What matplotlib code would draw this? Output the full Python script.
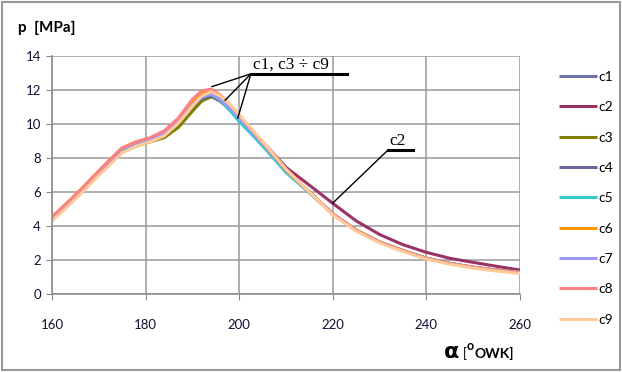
import matplotlib
matplotlib.use("Agg")
import matplotlib.pyplot as plt
from matplotlib.patches import Rectangle

# crank angle [deg]
alpha = [160, 163, 166, 169, 172, 175, 178, 181, 184, 187, 190, 192, 194,
         196, 198, 200, 203, 206, 210, 215, 220, 225, 230, 235, 240, 245,
         250, 255, 260]

# cylinder pressure [MPa] per case
c1 = [4.45, 5.20, 6.00, 6.85, 7.65, 8.45, 8.80, 9.05, 9.40, 10.10, 11.05, 11.50, 11.65,
      11.35, 10.85, 10.25, 9.40, 8.50, 7.25, 6.00, 4.70, 3.75, 3.05, 2.55, 2.10, 1.80,
      1.57, 1.40, 1.27]
c2 = [4.45, 5.20, 6.00, 6.85, 7.65, 8.45, 8.80, 9.05, 9.40, 10.10, 11.05, 11.50, 11.65,
      11.35, 10.85, 10.25, 9.45, 8.65, 7.45, 6.40, 5.33, 4.30, 3.50, 2.90, 2.45, 2.10,
      1.86, 1.63, 1.41]
c3 = [4.40, 5.15, 5.95, 6.80, 7.60, 8.35, 8.70, 8.95, 9.20, 9.80, 10.75, 11.35, 11.60,
      11.40, 10.90, 10.30, 9.40, 8.50, 7.25, 6.00, 4.70, 3.75, 3.05, 2.55, 2.10, 1.80,
      1.57, 1.40, 1.27]
c4 = [4.45, 5.20, 6.00, 6.85, 7.65, 8.45, 8.80, 9.05, 9.40, 10.10, 11.05, 11.50, 11.65,
      11.35, 10.85, 10.25, 9.40, 8.50, 7.25, 6.00, 4.70, 3.75, 3.05, 2.55, 2.10, 1.80,
      1.57, 1.40, 1.27]
c5 = [4.45, 5.20, 6.00, 6.85, 7.65, 8.40, 8.75, 9.00, 9.40, 10.15, 11.10, 11.60, 11.75,
      11.40, 10.80, 10.15, 9.30, 8.40, 7.15, 5.95, 4.70, 3.75, 3.05, 2.55, 2.10, 1.80,
      1.57, 1.40, 1.27]
c6 = [4.50, 5.30, 6.10, 6.95, 7.80, 8.60, 8.95, 9.15, 9.55, 10.30, 11.35, 11.85, 11.95,
      11.60, 11.05, 10.40, 9.50, 8.55, 7.30, 6.00, 4.70, 3.75, 3.05, 2.55, 2.10, 1.80,
      1.57, 1.40, 1.27]
c7 = [4.45, 5.25, 6.05, 6.90, 7.70, 8.55, 8.90, 9.10, 9.45, 10.15, 11.10, 11.60, 11.75,
      11.45, 10.95, 10.35, 9.45, 8.55, 7.30, 6.00, 4.70, 3.75, 3.05, 2.55, 2.10, 1.80,
      1.57, 1.40, 1.27]
c8 = [4.55, 5.30, 6.10, 6.95, 7.80, 8.60, 8.95, 9.20, 9.60, 10.35, 11.45, 11.95, 12.05,
      11.70, 11.15, 10.50, 9.55, 8.60, 7.30, 6.00, 4.70, 3.75, 3.05, 2.55, 2.10, 1.80,
      1.57, 1.40, 1.25]
c9 = [4.30, 5.05, 5.85, 6.70, 7.50, 8.30, 8.70, 8.95, 9.30, 10.05, 11.05, 11.65, 11.90,
      11.65, 11.15, 10.55, 9.60, 8.65, 7.35, 6.00, 4.65, 3.70, 3.00, 2.50, 2.05, 1.75,
      1.52, 1.35, 1.20]

series = [c1, c2, c3, c4, c5, c6, c7, c8, c9]
names = ["c1", "c2", "c3", "c4", "c5", "c6", "c7", "c8", "c9"]
colors = ["#7272AC", "#993366", "#808000", "#666699", "#33CCCC",
          "#FF9900", "#9999FF", "#FF8080", "#FFCC99"]

plt.rcParams.update({
    "font.family": "Lato",
    "font.size": 9.5,
})

fig = plt.figure(figsize=(6.22, 3.72), dpi=100)
ax = fig.add_axes([52 / 622, 78 / 372, 468 / 622, 238 / 372])

for vals, name, col in zip(series, names, colors):
    ax.plot(alpha, vals, color=col, lw=2.2, label=name, solid_capstyle="butt")

ax.set_xlim(160, 260)
ax.set_ylim(0, 14)
ax.set_xticks(range(160, 261, 20))
ax.set_yticks(range(0, 15, 2))
ax.grid(True, color="#999999", lw=1.1)
ax.set_axisbelow(True)
for side in ("top", "right"):
    ax.spines[side].set_visible(False)
for side in ("left", "bottom"):
    ax.spines[side].set_color("#888888")
    ax.spines[side].set_linewidth(1.1)
ax.tick_params(axis="both", direction="out", length=4, color="#888888",
               labelcolor="#111133", labelsize=9.5)
ax.tick_params(axis="x", pad=14)
ax.tick_params(axis="y", pad=4)

# leader-line annotations
serif = "Liberation Serif"
ax.text(203.0, 13.05, "c1, c3 \u00f7 c9", family=serif, fontsize=12.5,
        ha="left", va="bottom")
ax.plot([202.5, 223.0], [12.95, 12.95], color="black", lw=2.2, clip_on=False)
for tx, ty in [(194.2, 12.2), (197.0, 11.4), (199.7, 10.35)]:
    ax.plot([202.5, tx], [12.95, ty], color="black", lw=1.0)

ax.text(232.0, 8.55, "c2", family=serif, fontsize=12.5, ha="left", va="bottom")
ax.plot([231.8, 237.2], [8.47, 8.47], color="black", lw=2.2)
ax.plot([231.8, 220.0], [8.47, 5.35], color="black", lw=1.0)

# axis titles
fig.text(18 / 622, 1 - 28 / 372, "p  [MPa]", fontsize=11, fontweight="bold",
         ha="left", va="center")
fig.text(444 / 622, 1 - 358 / 372, "\u03b1", fontsize=16, fontweight="bold",
         ha="left", va="baseline", family="DejaVu Sans")
fig.text(463 / 622, 1 - 358 / 372, "[", fontsize=9, ha="left", va="baseline")
fig.text(467 / 622, 1 - 350 / 372, "o", fontsize=9, fontweight="bold",
         ha="left", va="baseline")
fig.text(474 / 622, 1 - 358 / 372, "OWK]", fontsize=10, fontweight="bold",
         ha="left", va="baseline")

fig.legend(loc="upper left", bbox_to_anchor=(559 / 622, 1 - 71 / 372),
           frameon=False, borderpad=0, borderaxespad=0, handlelength=2.7,
           handletextpad=0.15, labelspacing=1.32, fontsize=10)

fig.patches.append(Rectangle((0.004, 0.006), 0.992, 0.988, transform=fig.transFigure,
                             fill=False, edgecolor="#9a9a9a", lw=1.5))

fig.savefig("out.png", dpi=100)
